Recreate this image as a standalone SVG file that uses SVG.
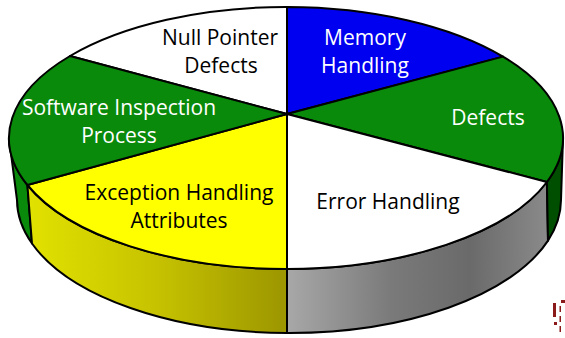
<svg xmlns="http://www.w3.org/2000/svg" width="565" height="338" viewBox="0 0 565 338">
<defs>
<style>
.pc{stroke:#000;stroke-width:2;stroke-linejoin:round}
.lbl{font-family:"Open Sans","Liberation Sans",sans-serif;font-size:21px;text-anchor:middle}
.dk{fill:#000}
.wt{fill:#fff}
.mark{fill:#8b1a1a}
</style>
<linearGradient id="gy" gradientUnits="userSpaceOnUse" x1="27" y1="0" x2="287" y2="0">
<stop offset="0" stop-color="#e2e200"/>
<stop offset="0.5" stop-color="#c6c200"/>
<stop offset="1" stop-color="#9c9600"/>
</linearGradient>
<linearGradient id="gg" gradientUnits="userSpaceOnUse" x1="287" y1="0" x2="548" y2="0">
<stop offset="0" stop-color="#a8a8a8"/>
<stop offset="0.4" stop-color="#7a7a7a"/>
<stop offset="0.7" stop-color="#6a6a6a"/>
<stop offset="1" stop-color="#8a8a8a"/>
</linearGradient>
</defs>
<rect width="565" height="338" fill="#fff"/>
<g id="side">
<path class="pc" fill="#0a8a0a" d="M9,138 A277,131 0 0 0 27.4,185 L32,243.5 A272,133 0 0 1 17,200 Z"/>
<path class="pc" fill="url(#gy)" d="M27.4,185 A277,131 0 0 0 287,269 L287,333 A272,133 0 0 1 32,243.5 Z"/>
<path class="pc" fill="url(#gg)" d="M287,269 A277,131 0 0 0 546.9,182 L548,240.6 A272,133 0 0 1 287,333 Z"/>
<path class="pc" fill="#004f00" d="M546.9,182 A277,131 0 0 0 563,138 L561,200 A272,133 0 0 1 548,240.6 Z"/>
</g>
<g id="null-pointer-defects">
<path class="pc" fill="#ffffff" d="M287,114 L70,56 A277,131 0 0 1 287,7 Z"/>
<text class="lbl dk" x="220" y="45">Null Pointer</text>
<text class="lbl dk" x="221" y="73">Defects</text>
</g>
<g id="memory-handling">
<path class="pc" fill="#0000f0" d="M287,114 L287,7 A277,131 0 0 1 503,56.6 Z"/>
<text class="lbl wt" x="365" y="45">Memory</text>
<text class="lbl wt" x="365" y="73">Handling</text>
</g>
<g id="defects">
<path class="pc" fill="#0a8a0a" d="M287,114 L503,56.6 A277,131 0 0 1 546.9,182 Z"/>
<text class="lbl wt" x="488" y="125">Defects</text>
</g>
<g id="error-handling">
<path class="pc" fill="#ffffff" d="M287,114 L546.9,182 A277,131 0 0 1 287,269 Z"/>
<text class="lbl dk" x="388" y="209">Error Handling</text>
</g>
<g id="exception-handling-attributes">
<path class="pc" fill="#ffff00" d="M287,114 L287,269 A277,131 0 0 1 27.4,185 Z"/>
<text class="lbl dk" x="179" y="200">Exception Handling</text>
<text class="lbl dk" x="179" y="228">Attributes</text>
</g>
<g id="software-inspection-process">
<path class="pc" fill="#0a8a0a" d="M287,114 L27.4,185 A277,131 0 0 1 70,56 Z"/>
<text class="lbl wt" x="119" y="115">Software Inspection</text>
<text class="lbl wt" x="119" y="143">Process</text>
</g>
<g id="mark">
<rect class="mark" x="553" y="303" width="3" height="14"/>
<rect class="mark" x="561" y="300" width="4" height="3"/>
<rect class="mark" x="559.5" y="306" width="1.5" height="6"/>
<rect class="mark" x="559.5" y="316" width="1.5" height="6"/>
<rect class="mark" x="554" y="322" width="3" height="3"/>
<rect class="mark" x="559.5" y="326" width="1.5" height="6"/>
</g>
</svg>
